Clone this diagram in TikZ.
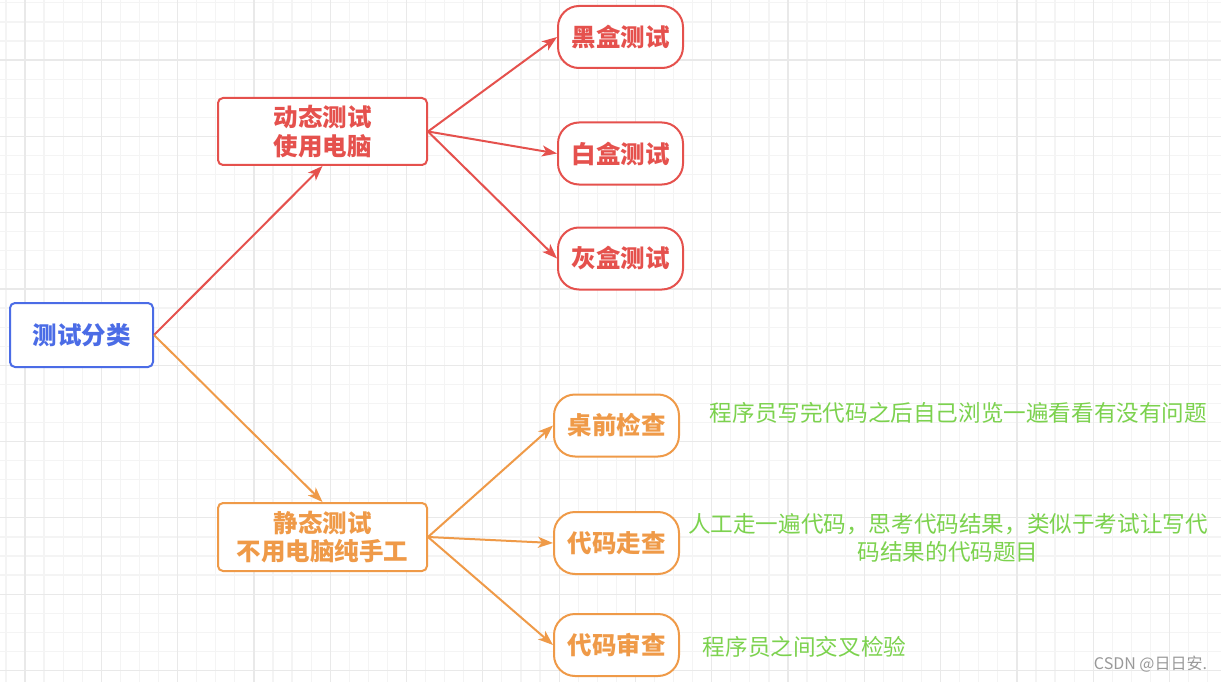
\documentclass[tikz,border=0pt]{standalone}
\usepackage{fontspec}
\setmainfont{Noto Sans CJK SC}
\usetikzlibrary{arrows.meta}
\definecolor{cred}{HTML}{E5514D}
\definecolor{corg}{HTML}{EF9A48}
\definecolor{cblue}{HTML}{4B6CE6}
\definecolor{cgreen}{HTML}{7CD24E}
\definecolor{gminor}{HTML}{F4F4F4}
\definecolor{gmajor}{HTML}{E9E9E9}
\begin{document}
\begin{tikzpicture}[x=1pt,y=-1pt,
  boxn/.style={draw,line width=2pt,rounded corners=5pt,fill=white,align=center,font=\fontsize{24.5}{28.5}\selectfont\bfseries,inner sep=0pt},
  pill/.style={draw,line width=2pt,rounded corners=21pt,fill=white,align=center,font=\fontsize{24.5}{28.5}\selectfont\bfseries,inner sep=0pt,minimum width=125pt,minimum height=62pt},
  note/.style={text=cgreen,align=center,font=\fontsize{22.6}{28}\selectfont,inner sep=0pt},
  arr/.style={line width=2pt,-{Stealth[length=15pt,width=11pt,inset=4pt]}}]
\useasboundingbox (0,0) rectangle (1221,682);
\fill[white] (0,0) rectangle (1221,682);
% grid
\foreach \i in {0,...,64} {\draw[gminor,line width=1.2pt] (5.93+\i*19.075,0) -- (5.93+\i*19.075,682);}
\foreach \i in {0,...,36} {\draw[gminor,line width=1.2pt] (0,2.83+\i*19.075) -- (1221,2.83+\i*19.075);}
\foreach \i in {0,...,15} {\draw[gmajor,line width=1.2pt] (25+\i*76.3,0) -- (25+\i*76.3,682);}
\foreach \i in {1,...,9} {\draw[gmajor,line width=1.2pt] (0,-16.3+\i*76.3) -- (1221,-16.3+\i*76.3);}
% nodes
\node[boxn,draw=cblue,text=cblue,minimum width=143pt,minimum height=64pt] (root) at (81.5,335) {测试分类};
\node[boxn,draw=cred,text=cred,minimum width=209pt,minimum height=67pt] (dyn) at (322.5,131.5) {动态测试\\使用电脑};
\node[boxn,draw=corg,text=corg,minimum width=209pt,minimum height=68pt] (sta) at (322.5,537) {静态测试\\不用电脑纯手工};
\node[pill,draw=cred,text=cred] (hei) at (620.5,37) {黑盒测试};
\node[pill,draw=cred,text=cred] (bai) at (620.5,153.5) {白盒测试};
\node[pill,draw=cred,text=cred] (hui) at (620.5,258.5) {灰盒测试};
\node[pill,draw=corg,text=corg] (zq) at (616.5,425.5) {桌前检查};
\node[pill,draw=corg,text=corg] (zc) at (616.5,543) {代码走查};
\node[pill,draw=corg,text=corg] (sc) at (616.5,645) {代码审查};
% notes
\node[note] (n1) at (958.5,413) {程序员写完代码之后自己浏览一遍看看有没有问题};
\node[note] (n2) at (948,538) {人工走一遍代码，思考代码结果，类似于考试让写代\\码结果的代码题目};
\node[note] (n3) at (804.5,647) {程序员之间交叉检验};
\node[text=gray!80,font=\fontsize{16}{18}\selectfont,inner sep=0pt] (wm) at (1150.5,664) {CSDN @日日安.};
% arrows
\draw[arr,cred] (root.east) -- (dyn.south);
\draw[arr,corg] (root.east) -- (sta.north);
\draw[arr,cred] (dyn.east) -- (hei.west);
\draw[arr,cred] (dyn.east) -- (bai.west);
\draw[arr,cred] (dyn.east) -- (hui.west);
\draw[arr,corg] (sta.east) -- (zq.west);
\draw[arr,corg] (sta.east) -- (zc.west);
\draw[arr,corg] (sta.east) -- (sc.west);
\end{tikzpicture}
\end{document}
